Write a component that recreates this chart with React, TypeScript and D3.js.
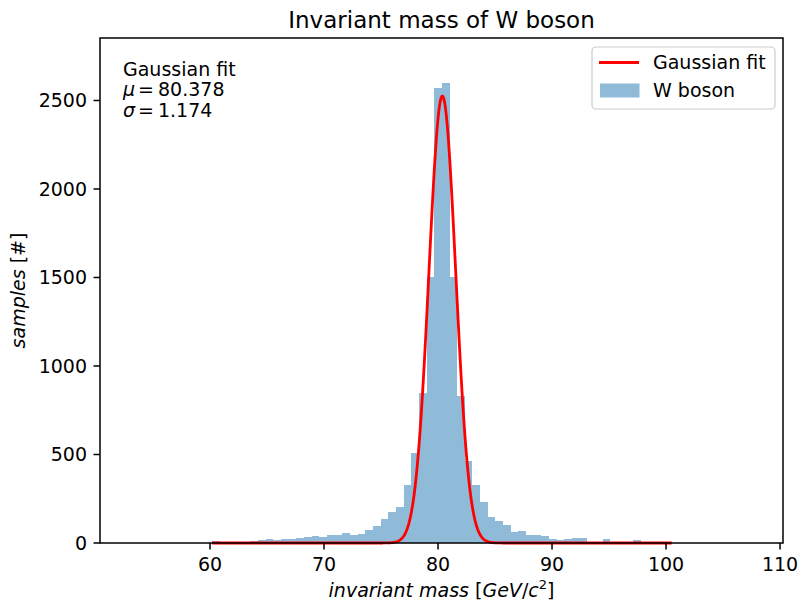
import React from "react";
import * as d3 from "d3";

// ---- data ----
const BIN_MIN = 60.175;
const BIN_WIDTH = 0.672;
const counts = [
  10, 4, 6, 5, 8, 9, 19, 24, 19, 24,
  24, 30, 36, 41, 36, 47, 47, 58, 47, 52,
  74, 98, 138, 177, 205, 329, 510, 845, 1505, 2570,
  2600, 1505, 828, 466, 329, 233, 145, 126, 103, 64,
  69, 47, 47, 41, 24, 19, 24, 30, 30, 8,
  8, 24, 0, 6, 7, 19, 0, 5, 6, 3,
];
const FIT_MU = 80.378;
const FIT_SIGMA = 1.174;
const FIT_AMP = 2525;
const xTicks = [60, 70, 80, 90, 100, 110];
const yTicks = [0, 500, 1000, 1500, 2000, 2500];
const X_DOMAIN = [50.35, 110.26];
const Y_DOMAIN = [0, 2853];

const TITLE = "Invariant mass of W boson";
const LEGEND_FIT = "Gaussian fit";
const LEGEND_HIST = "W boson";

const W = 800, H = 605;
const M = { left: 100, right: 783, top: 38, bottom: 543 };
const FONT = "DejaVu Sans, sans-serif";
const FS = 19;

export default function App() {
  const x = d3.scaleLinear().domain(X_DOMAIN).range([M.left, M.right]);
  const y = d3.scaleLinear().domain(Y_DOMAIN).range([M.bottom, M.top]);

  const bins = counts.map((c, i) => ({
    x0: BIN_MIN + i * BIN_WIDTH,
    x1: BIN_MIN + (i + 1) * BIN_WIDTH,
    c,
  }));

  const histMax = BIN_MIN + counts.length * BIN_WIDTH;
  const fitX = d3.range(0, 801).map((i) => BIN_MIN + ((histMax - BIN_MIN) * i) / 800);
  const gauss = (v: number) =>
    FIT_AMP * Math.exp(-((v - FIT_MU) ** 2) / (2 * FIT_SIGMA ** 2));
  const line = d3
    .line<number>()
    .x((v) => x(v))
    .y((v) => y(gauss(v)));

  return (
    <svg
      width={W}
      height={H}
      style={{ display: "block", position: "absolute", left: 0, top: 0, background: "white" }}
      fontFamily={FONT}
    >
      <rect x={0} y={0} width={W} height={H} fill="white" />
      {/* bars */}
      <g shapeRendering="crispEdges">
        {bins.map((b, i) =>
          b.c > 0 ? (
            <rect
              key={i}
              x={x(b.x0)}
              width={x(b.x1) - x(b.x0)}
              y={y(b.c)}
              height={y(0) - y(b.c)}
              fill="#1f77b4"
              fillOpacity={0.5}
            />
          ) : null
        )}
      </g>
      {/* fit */}
      <path d={line(fitX) || ""} fill="none" stroke="red" strokeWidth={2.8} strokeLinejoin="round" />

      {/* spines */}
      <rect
        x={M.left}
        y={M.top}
        width={M.right - M.left}
        height={M.bottom - M.top}
        fill="none"
        stroke="black"
        strokeWidth={1.5}
      />

      {/* x ticks */}
      {xTicks.map((t) => (
        <g key={t}>
          <line x1={x(t)} x2={x(t)} y1={M.bottom} y2={M.bottom + 6.5} stroke="black" strokeWidth={1.5} />
          <text x={x(t)} y={571} textAnchor="middle" fontSize={FS} fill="black">
            {t}
          </text>
        </g>
      ))}
      {/* y ticks */}
      {yTicks.map((t) => (
        <g key={t}>
          <line x1={M.left - 6.5} x2={M.left} y1={y(t)} y2={y(t)} stroke="black" strokeWidth={1.5} />
          <text x={87} y={y(t) + 7} textAnchor="end" fontSize={FS} fill="black">
            {t}
          </text>
        </g>
      ))}

      {/* title */}
      <text x={(M.left + M.right) / 2} y={28} textAnchor="middle" fontSize={23} fill="black">
        {TITLE}
      </text>

      {/* x label */}
      <text x={(M.left + M.right) / 2} y={597} textAnchor="middle" fontSize={FS} fill="black">
        <tspan fontStyle="italic">invariant mass </tspan>
        <tspan>[</tspan>
        <tspan fontStyle="italic">GeV</tspan>
        <tspan>/</tspan>
        <tspan fontStyle="italic">c</tspan>
        <tspan fontSize={13} dy={-8}>2</tspan>
        <tspan dy={8}>]</tspan>
      </text>

      {/* y label */}
      <text
        transform={`translate(25,${(M.top + M.bottom) / 2}) rotate(-90)`}
        textAnchor="middle"
        fontSize={FS}
        fill="black"
      >
        <tspan fontStyle="italic">samples </tspan>
        <tspan>[#]</tspan>
      </text>

      {/* annotation */}
      <g fontSize={FS} fill="black">
        <text x={123} y={76}>Gaussian fit</text>
        <text x={123} y={96}>
          <tspan fontStyle="italic">μ</tspan>
          <tspan dx={3}>=</tspan>
          <tspan dx={4}>80.378</tspan>
        </text>
        <text x={123} y={117}>
          <tspan fontStyle="italic">σ</tspan>
          <tspan dx={3}>=</tspan>
          <tspan dx={4}>1.174</tspan>
        </text>
      </g>

      {/* legend */}
      <g>
        <rect
          x={592}
          y={47}
          width={183}
          height={62}
          rx={4}
          fill="white"
          fillOpacity={0.8}
          stroke="#cccccc"
          strokeWidth={1.2}
        />
        <line x1={599} x2={639} y1={62.5} y2={62.5} stroke="red" strokeWidth={2.8} />
        <text x={653} y={69} fontSize={FS} fill="black">
          {LEGEND_FIT}
        </text>
        <rect x={600} y={83.5} width={39.5} height={14} fill="#1f77b4" fillOpacity={0.5} />
        <text x={653} y={97} fontSize={FS} fill="black">
          {LEGEND_HIST}
        </text>
      </g>
    </svg>
  );
}
